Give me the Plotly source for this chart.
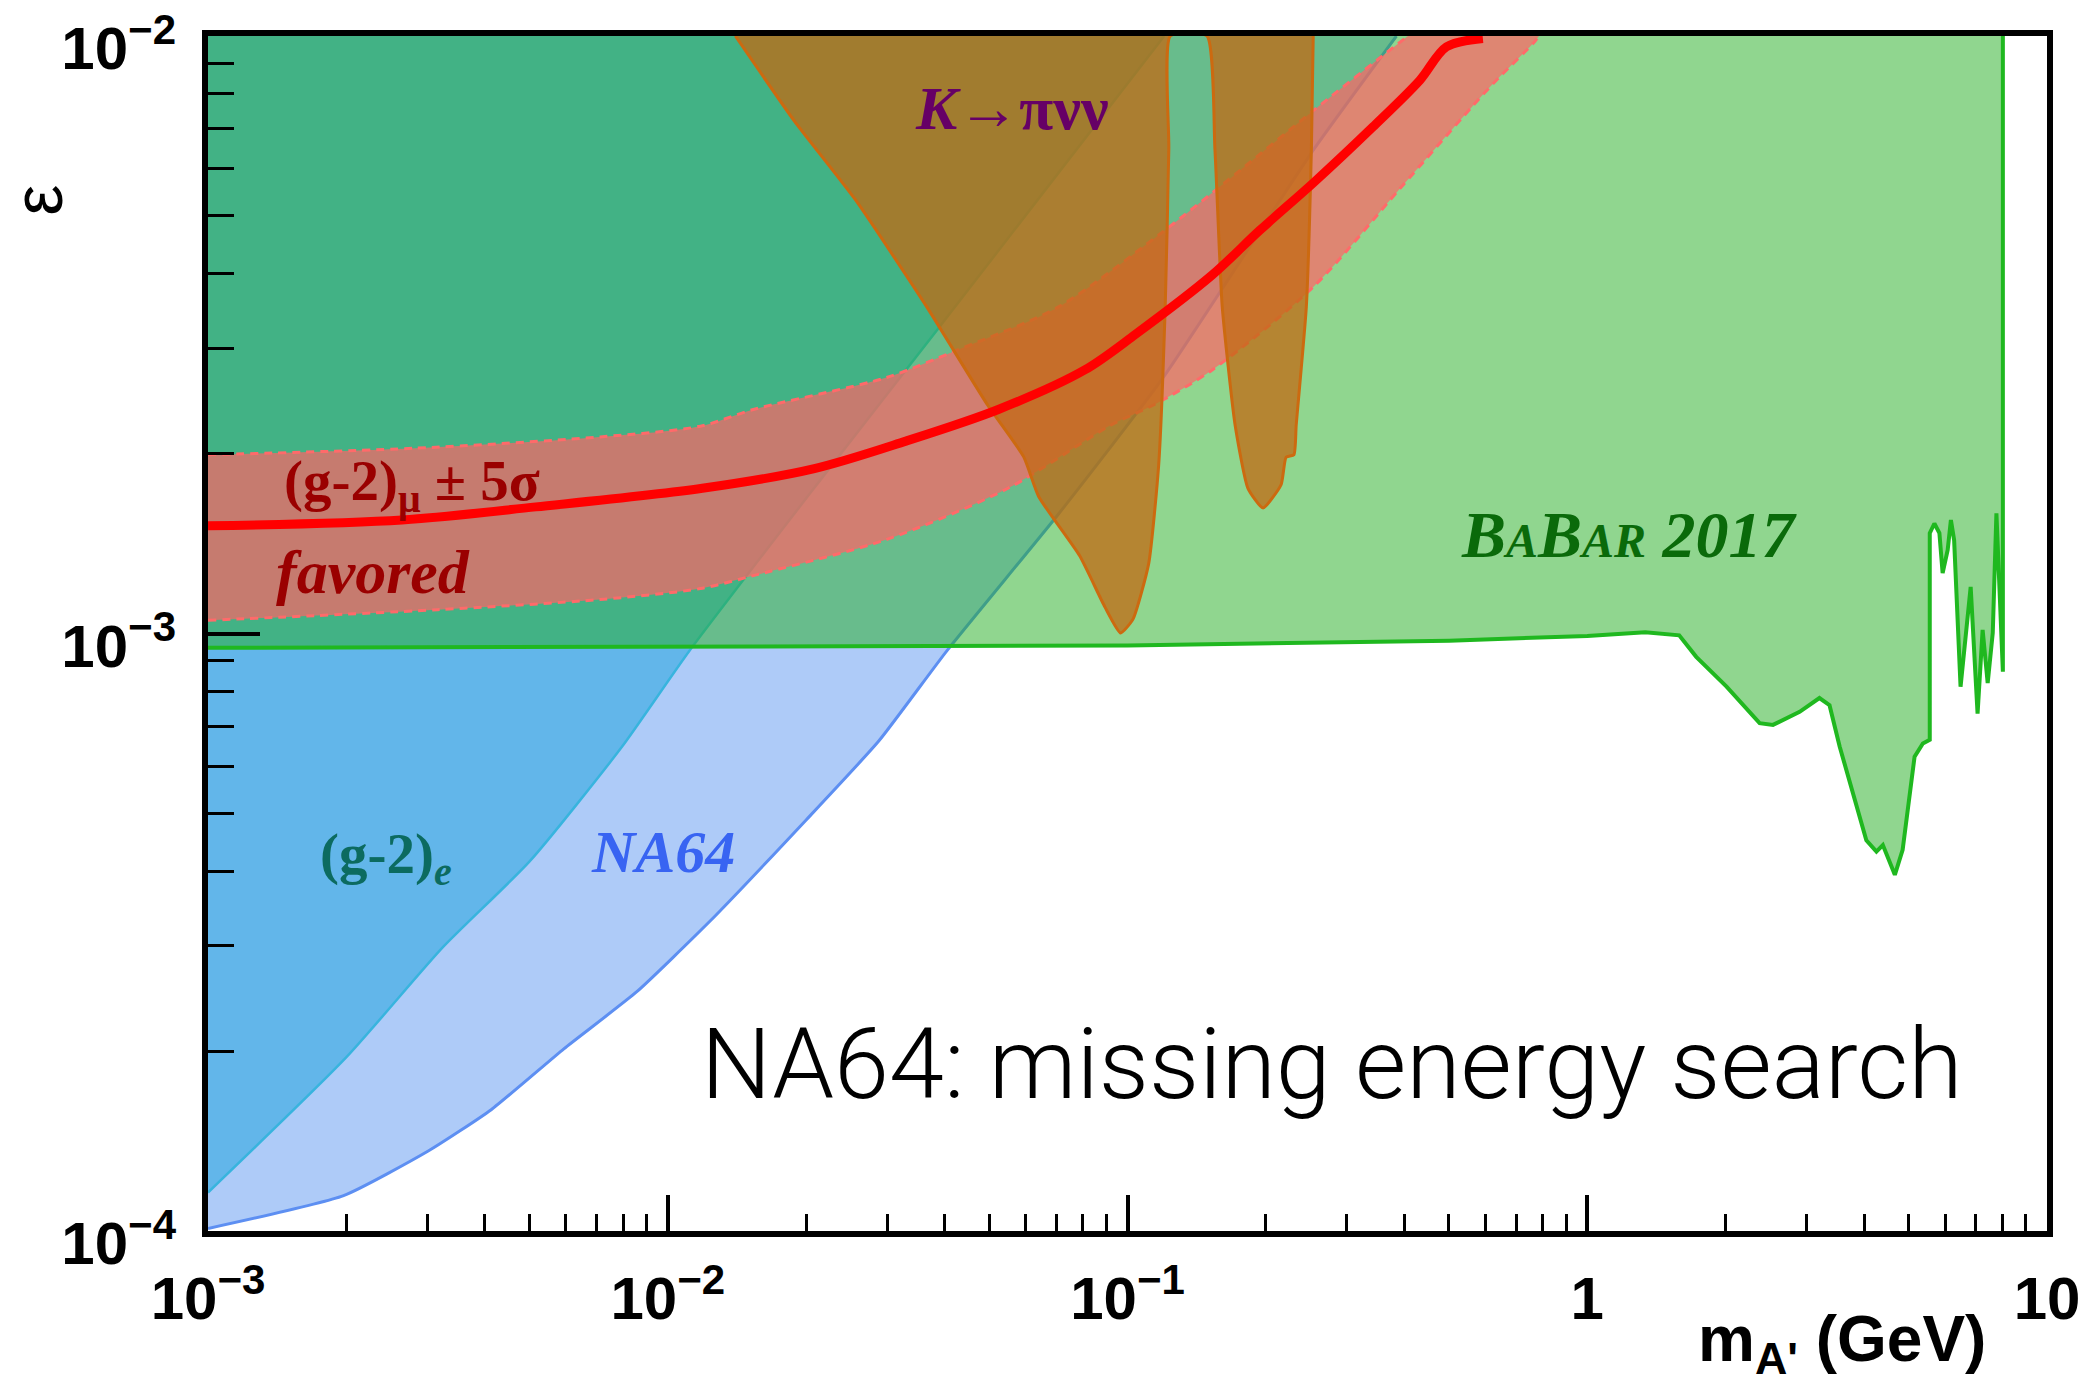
import plotly.graph_objects as go

# ---------------------------------------------------------------
# Dark photon limits: mass m_A' [GeV] versus kinetic mixing epsilon
# ---------------------------------------------------------------

# NA64 (missing energy) upper limit
na64_mass = [1.0e-3, 1.972e-3, 3.013e-3, 4.130e-3, 5.943e-3, 8.551e-3, 1.230e-2,
             2.000e-2, 2.877e-2, 4.046e-2, 7.079e-2, 0.1197, 0.2535, 0.3846]
na64_eps = [1.01e-4, 1.146e-4, 1.361e-4, 1.596e-4, 2.018e-4, 2.512e-4, 3.289e-4,
            4.875e-4, 6.607e-4, 9.354e-4, 1.585e-3, 2.685e-3, 6.442e-3, 1.0e-2]

# electron anomalous magnetic moment (g-2)_e
g2e_mass = [1.0e-3, 2.0e-3, 3.243e-3, 5.012e-3, 7.943e-3, 1.117e-2, 2.138e-2,
            3.846e-2, 0.1202]
g2e_eps = [1.16e-4, 1.954e-4, 2.985e-4, 4.159e-4, 6.457e-4, 9.376e-4, 1.799e-3,
           3.214e-3, 1.0e-2]

# BaBar 2017 invisible search
babar_mass = [1.0e-3, 0.1, 0.501, 1.0, 1.337, 1.585, 1.726, 2.009, 2.371, 2.535,
              2.897, 3.199, 3.365, 3.540, 4.046, 4.256, 4.395, 4.667, 4.853,
              5.152, 5.370, 5.559, 5.559, 5.689, 5.834, 5.929, 6.081, 6.180,
              6.281, 6.486, 6.823, 7.063, 7.244, 7.430, 7.621, 7.762, 8.017,
              8.017]
babar_eps = [9.462e-4, 9.55e-4, 9.727e-4, 9.908e-4, 1.0046e-3, 9.931e-4, 9.141e-4,
             8.147e-4, 7.079e-4, 7.031e-4, 7.396e-4, 7.798e-4, 7.586e-4, 6.471e-4,
             4.508e-4, 4.315e-4, 4.426e-4, 3.945e-4, 4.345e-4, 6.223e-4, 6.546e-4,
             6.637e-4, 1.472e-3, 1.528e-3, 1.472e-3, 1.262e-3, 1.380e-3, 1.549e-3,
             1.432e-3, 8.147e-4, 1.197e-3, 7.345e-4, 1.014e-3, 8.26e-4, 1.002e-3,
             1.589e-3, 8.63e-4, 1.0e-2]

# K -> pi nu nu
kpinn_mass = [1.403e-2, 1.884e-2, 2.559e-2, 3.656e-2, 4.966e-2, 5.943e-2, 6.412e-2,
              7.870e-2, 8.933e-2, 9.66e-2, 0.1028, 0.1112, 0.1169, 0.1208, 0.1230,
              0.1239, 0.1489, 0.1549, 0.1607, 0.1714, 0.1828, 0.1972, 0.2158,
              0.2213, 0.2301, 0.2328, 0.2449, 0.2512, 0.2535]
kpinn_eps = [1.0e-2, 7.211e-3, 5.321e-3, 3.524e-3, 2.410e-3, 1.977e-3, 1.694e-3,
             1.349e-3, 1.107e-3, 1.002e-3, 1.057e-3, 1.309e-3, 1.914e-3, 3.524e-3,
             6.486e-3, 1.0e-2, 1.0e-2, 6.486e-3, 3.524e-3, 2.234e-3, 1.750e-3,
             1.622e-3, 1.774e-3, 1.972e-3, 1.991e-3, 2.234e-3, 3.524e-3, 6.486e-3,
             1.0e-2]

# (g-2)_mu favoured: central value and +-5 sigma edges
g2mu_mass = [1.0e-3, 2.642e-3, 5.164e-3, 1.189e-2, 2.084e-2, 3.296e-2, 5.236e-2,
             8.072e-2, 0.1042, 0.1528, 0.1941, 0.2535, 0.3420, 0.4325, 0.4943, 0.5929]
g2mu_eps = [1.514e-3, 1.549e-3, 1.629e-3, 1.750e-3, 1.888e-3, 2.099e-3, 2.371e-3,
            2.761e-3, 3.170e-3, 3.981e-3, 4.732e-3, 5.675e-3, 7.047e-3, 8.433e-3,
            9.594e-3, 9.908e-3]

g2mu_hi_mass = [1.0e-3, 2.818e-3, 7.129e-3, 1.178e-2, 1.535e-2, 2.979e-2, 4.256e-2,
                7.096e-2, 0.1183, 0.1738, 0.2535, 0.3548, 0.4074]
g2mu_hi_eps = [1.991e-3, 2.042e-3, 2.133e-3, 2.223e-3, 2.371e-3, 2.679e-3, 2.979e-3,
               3.524e-3, 4.677e-3, 5.916e-3, 7.499e-3, 9.204e-3, 1.0e-2]

g2mu_lo_mass = [1.0e-3, 3.162e-3, 7.129e-3, 1.178e-2, 1.535e-2, 2.979e-2, 5.495e-2,
                9.162e-2, 0.1156, 0.1528, 0.2535, 0.3908, 0.5834, 0.6457, 0.7656, 0.7852]
g2mu_lo_eps = [1.052e-3, 1.096e-3, 1.140e-3, 1.189e-3, 1.250e-3, 1.435e-3, 1.750e-3,
               2.228e-3, 2.427e-3, 2.761e-3, 3.802e-3, 5.546e-3, 7.870e-3, 8.551e-3,
               9.750e-3, 1.0e-2]

# axes
X_RANGE = [1e-3, 10.0]
Y_RANGE = [1e-4, 1e-2]
x_tickvals = [1e-3, 1e-2, 1e-1, 1.0, 10.0]
x_ticktext = ["10<sup>\u22123</sup>", "10<sup>\u22122</sup>", "10<sup>\u22121</sup>", "1", "10"]
y_tickvals = [1e-4, 1e-3, 1e-2]
y_ticktext = ["10<sup>\u22124</sup>", "10<sup>\u22123</sup>", "10<sup>\u22122</sup>"]
x_minor = [m * d for d in (1e-3, 1e-2, 1e-1, 1.0) for m in range(2, 10)]
y_minor = [m * d for d in (1e-4, 1e-3) for m in range(2, 10)]

SERIF = "Liberation Serif, Times New Roman, serif"
SANS = "Liberation Sans, Arial, Helvetica, sans-serif"

fig = go.Figure()


def add_excluded(xs, ys, fillcolor, linecolor, width, shape="linear", smoothing=1.0):
    """Fill the region above a limit curve up to the top of the frame."""
    # invisible ceiling along the upper frame edge
    fig.add_trace(go.Scatter(x=[xs[0], xs[-1]], y=[Y_RANGE[1], Y_RANGE[1]],
                             mode="lines", line=dict(width=0), hoverinfo="skip"))
    line = dict(color=linecolor, width=width, shape=shape)
    if shape == "spline":
        line["smoothing"] = smoothing
    fig.add_trace(go.Scatter(x=xs, y=ys, mode="lines", fill="tonexty",
                             fillcolor=fillcolor, line=line, hoverinfo="skip"))


# NA64 exclusion
add_excluded(na64_mass, na64_eps, "rgba(93,151,241,0.5)", "#5d8ff2", 3, "spline", 0.5)
# (g-2)_e exclusion
add_excluded(g2e_mass, g2e_eps, "rgba(22,161,220,0.5)", "#38b4de", 2.5, "spline", 0.6)
# BaBar 2017 exclusion
add_excluded(babar_mass, babar_eps, "rgba(33,173,31,0.5)", "#1fb81f", 4)

# (g-2)_mu +-5 sigma band with dotted edges
fig.add_trace(go.Scatter(x=g2mu_lo_mass, y=g2mu_lo_eps, mode="lines",
                         line=dict(color="#ff6a6a", width=3, dash="8px,6px",
                                   shape="spline", smoothing=0.8),
                         hoverinfo="skip"))
fig.add_trace(go.Scatter(x=g2mu_hi_mass, y=g2mu_hi_eps, mode="lines",
                         fill="tonexty", fillcolor="rgba(255,100,101,0.7)",
                         line=dict(color="#ff6a6a", width=3, dash="8px,6px",
                                   shape="spline", smoothing=0.8),
                         hoverinfo="skip"))

# K -> pi nu nu exclusion
add_excluded(kpinn_mass, kpinn_eps, "rgba(193,105,19,0.75)", "#cc6a10", 3, "spline", 0.5)

# (g-2)_mu central value
fig.add_trace(go.Scatter(x=g2mu_mass, y=g2mu_eps, mode="lines",
                         line=dict(color="#ff0000", width=9, shape="spline", smoothing=0.9),
                         hoverinfo="skip"))

axis_common = dict(
    type="log", showline=True, linecolor="black", linewidth=6, mirror=True,
    ticks="inside", tickcolor="black", showgrid=False, zeroline=False,
    tickmode="array", ticklabeloverflow="allow",
    tickfont=dict(family=SANS, size=60, color="black", weight="bold"),
)

fig.update_xaxes(**axis_common, range=[-3, 1], tickvals=x_tickvals, ticktext=x_ticktext,
                 ticklen=36, tickwidth=4, ticklabelstandoff=10,
                 minor=dict(tickmode="array", tickvals=x_minor, ticks="inside",
                            ticklen=17, tickwidth=3, tickcolor="black", showgrid=False))
fig.update_yaxes(**axis_common, range=[-4, -2], tickvals=y_tickvals, ticktext=y_ticktext,
                 ticklen=52, tickwidth=4, ticklabelstandoff=14, ticklabelshift=12,
                 minor=dict(tickmode="array", tickvals=y_minor, ticks="inside",
                            ticklen=26, tickwidth=3, tickcolor="black", showgrid=False))

annotations = [
    # axis titles
    dict(text="\u03b5", xref="paper", yref="paper", x=-0.0925, y=0.8628,
         xanchor="center", yanchor="middle", textangle=-90,
         font=dict(family=SANS, size=70, color="black")),
    dict(text="<b>m<sub>A'</sub> (GeV)</b>", xref="paper", yref="paper",
         x=0.968, y=-0.094, xanchor="right", yanchor="middle",
         font=dict(family=SANS, size=64, color="black")),
    # region labels (log10 coordinates on log axes)
    dict(text="<b><i>K</i>\u2192\u03c0\u03bd\u03bd</b>", x=-1.251, y=-2.1205,
         font=dict(family=SERIF, size=62, color="#660066")),
    dict(text="<b>(g-2)<sub>\u03bc</sub> \u00b1 5\u03c3</b>", x=-2.838, y=-2.751,
         xanchor="left", font=dict(family=SERIF, size=57, color="#9a0000")),
    dict(text="<b><i>favored</i></b>", x=-2.856, y=-2.897, xanchor="left",
         font=dict(family=SERIF, size=62, color="#9a0000")),
    dict(text="<b>(g-2)<sub><i>e</i></sub></b>", x=-2.760, y=-3.376, xanchor="left",
         font=dict(family=SERIF, size=57, color="#0c6b60")),
    dict(text="<b><i>NA64</i></b>", x=-2.010, y=-3.365,
         font=dict(family=SERIF, size=60, color="#3864f2")),
    dict(text="<b><i>B<span style='font-size:48px'>A</span>B"
              "<span style='font-size:48px'>AR</span> 2017</i></b>",
         x=0.0924, y=-2.835, font=dict(family=SERIF, size=66, color="#0a6a0a")),
    dict(text="NA64: missing energy search", x=-1.9315, y=-3.72, xanchor="left",
         font=dict(family="Roboto, Liberation Sans, sans-serif", size=99,
                   color="black", weight=300)),
]
for a in annotations:
    a.setdefault("xref", "x")
    a.setdefault("yref", "y")
    a["showarrow"] = False

fig.update_layout(
    width=2094, height=1384,
    margin=dict(l=208, r=47, t=36, b=153, autoexpand=False),
    paper_bgcolor="white", plot_bgcolor="white",
    showlegend=False,
    annotations=annotations,
)

fig.write_html("out.html")
